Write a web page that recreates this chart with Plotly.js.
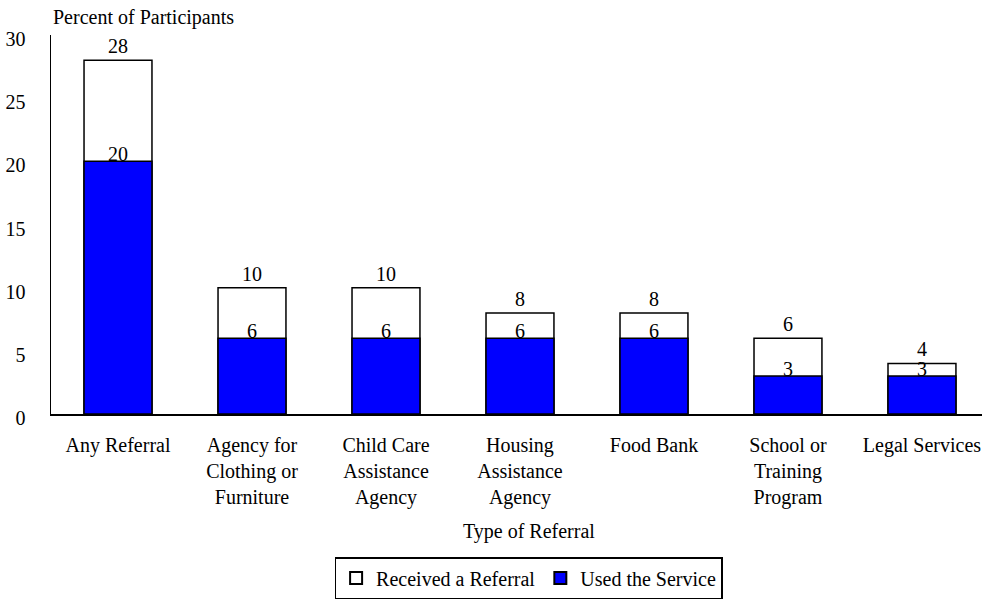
<!DOCTYPE html>
<html>
<head>
<meta charset="utf-8">
<script src="https://cdn.plot.ly/plotly-3.0.1.min.js"></script>
<style>html,body{margin:0;padding:0;background:#fff;}#chart{width:982px;height:599px;}</style>
</head>
<body>
<div id="chart"></div>
<script>
const categories = [
  "Any Referral",
  "Agency for<br>Clothing or<br>Furniture",
  "Child Care<br>Assistance<br>Agency",
  "Housing<br>Assistance<br>Agency",
  "Food Bank",
  "School or<br>Training<br>Program",
  "Legal Services"
];
const receivedReferral = [28, 10, 10, 8, 8, 6, 4];
const usedService = [20, 6, 6, 6, 6, 3, 3];
const yTickValues = [0, 5, 10, 15, 20, 25, 30];

const FONT = "'Liberation Serif', 'Times New Roman', Times, serif";
const xIdx = categories.map((_, i) => i);

const traces = [
  {
    type: "bar", name: "Received a Referral", x: xIdx, y: receivedReferral,
    width: 0.507,
    marker: {color: "#ffffff", line: {color: "#000000", width: 1.5}},
    hoverinfo: "skip"
  },
  {
    type: "bar", name: "Used the Service", x: xIdx, y: usedService,
    width: 0.507,
    marker: {color: "#0000ff", line: {color: "#000000", width: 1.5}},
    hoverinfo: "skip"
  }
];

const annotations = [];
receivedReferral.forEach((v, i) => annotations.push({
  x: i, y: v, xref: "x", yref: "y", text: String(v), showarrow: false,
  yanchor: "bottom", yshift: 1, font: {family: FONT, size: 20, color: "#000"}
}));
usedService.forEach((v, i) => annotations.push({
  x: i, y: v, xref: "x", yref: "y", text: String(v), showarrow: false,
  yanchor: "bottom", yshift: -6, font: {family: FONT, size: 20, color: "#000"}
}));
annotations.push({
  x: 0, y: 1.045, xref: "paper", yref: "paper", text: "Percent of Participants",
  showarrow: false, xanchor: "left", yanchor: "middle",
  font: {family: FONT, size: 20, color: "#000"}
});
annotations.push({
  x: 0.513, y: -0.3105, xref: "paper", yref: "paper", text: "Type of Referral",
  showarrow: false, xanchor: "center", yanchor: "middle",
  font: {family: FONT, size: 20, color: "#000"}
});

const layout = {
  width: 982, height: 599,
  margin: {l: 51, r: 0, t: 35, b: 184, pad: 0},
  paper_bgcolor: "#fff", plot_bgcolor: "#fff",
  font: {family: FONT, size: 20, color: "#000"},
  barmode: "overlay",
  showlegend: true,
  legend: {
    orientation: "h", x: 0.513, xanchor: "center", y: -0.378, yanchor: "top",
    bordercolor: "#000", borderwidth: 1.5, bgcolor: "#fff",
    font: {family: FONT, size: 20, color: "#000"},
    itemsizing: "constant", traceorder: "normal", tracegroupgap: 0
  },
  xaxis: {
    range: [-0.5, 6.448], tickmode: "array", tickvals: xIdx, ticktext: categories,
    showgrid: false, zeroline: false, showline: true, linecolor: "#000", linewidth: 1.5,
    ticks: "", ticklabelstandoff: 12, fixedrange: true,
    tickfont: {family: FONT, size: 20, color: "#000"}
  },
  yaxis: {
    range: [0, 30], tickmode: "array", tickvals: yTickValues,
    showgrid: false, zeroline: false, showline: true, linecolor: "#000", linewidth: 1.5,
    ticks: "", ticklabelstandoff: 20, ticklabelshift: 4, fixedrange: true,
    tickfont: {family: FONT, size: 20, color: "#000"}
  },
  annotations: annotations
};

Plotly.newPlot("chart", traces, layout, {displayModeBar: false, staticPlot: true});
</script>
</body>
</html>
